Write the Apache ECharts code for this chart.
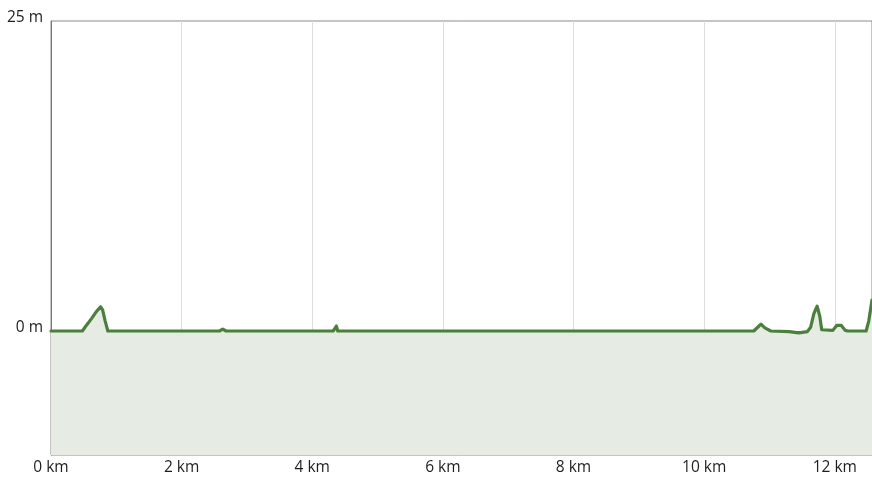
<!DOCTYPE html>
<html>
<head>
<meta charset="utf-8">
<script src="https://cdn.jsdelivr.net/npm/echarts@6/dist/echarts.min.js"></script>
<style>html,body{margin:0;padding:0;background:#fff}#c{width:872px;height:482px}</style>
</head>
<body>
<div id="c"></div>
<script>
const distKm = [0, 0.48, 0.52, 0.62, 0.70, 0.76, 0.79, 0.83, 0.87, 1.5, 2.58, 2.63, 2.68, 3.5, 4.32, 4.34, 4.37, 4.39, 4.42, 6.0, 8.0, 10.76, 10.82, 10.87, 10.93, 11.02, 11.3, 11.45, 11.58, 11.63, 11.68, 11.73, 11.77, 11.80, 11.83, 11.97, 12.03, 12.1, 12.16, 12.2, 12.48, 12.52, 12.57];
const elevM  = [0, 0, 0.3, 1.0, 1.6, 1.95, 1.7, 0.8, 0, 0, 0, 0.15, 0, 0, 0, -0.1, 0.4, 0, 0, 0, 0, 0, 0.3, 0.55, 0.25, 0, -0.05, -0.15, -0.05, 0.3, 1.4, 2.0, 1.2, 0.1, 0, 0.05, 0.45, 0.45, 0.05, 0, 0, 0.8, 2.5];
const yLabelValues = [0, 25];
const xMaxKm = 12.57;

const chart = echarts.init(document.getElementById('c'), null, {renderer: 'canvas'});
const font = "'Open Sans', sans-serif";
chart.setOption({
  animation: false,
  grid: {left: 51, right: -1, top: 21, bottom: 27, show: true, borderColor: '#8a8a8a', borderWidth: 1, backgroundColor: 'transparent'},
  xAxis: {
    type: 'value', min: 0, max: xMaxKm, interval: 2,
    axisLine: {show: true, lineStyle: {color: '#777', width: 1}},
    axisTick: {show: false},
    splitLine: {show: true, lineStyle: {color: '#dcdcdc', width: 1}},
    axisLabel: {showMaxLabel: false, color: '#1e1e1e', fontFamily: font, fontSize: 15.5, margin: 5,
      formatter: v => v + ' km'}
  },
  yAxis: {
    type: 'value', min: -10, max: 25, interval: 5,
    axisLine: {show: true, lineStyle: {color: '#777', width: 1}},
    axisTick: {show: false},
    splitLine: {show: false},
    axisLabel: {color: '#1e1e1e', fontFamily: font, fontSize: 15.5, margin: 8, verticalAlign: 'bottom', lineHeight: 6,
      formatter: v => yLabelValues.includes(v) ? v + ' m' : ''}
  },
  series: [{
    type: 'line',
    data: distKm.map((d, i) => [d, elevM[i]]),
    showSymbol: false,
    smooth: false,
    lineStyle: {color: '#4a7f3c', width: 3.2, join: 'round', cap: 'round'},
    areaStyle: {color: '#e6ebe3', opacity: 1, origin: 'start'}
  }]
});
</script>
</body>
</html>
